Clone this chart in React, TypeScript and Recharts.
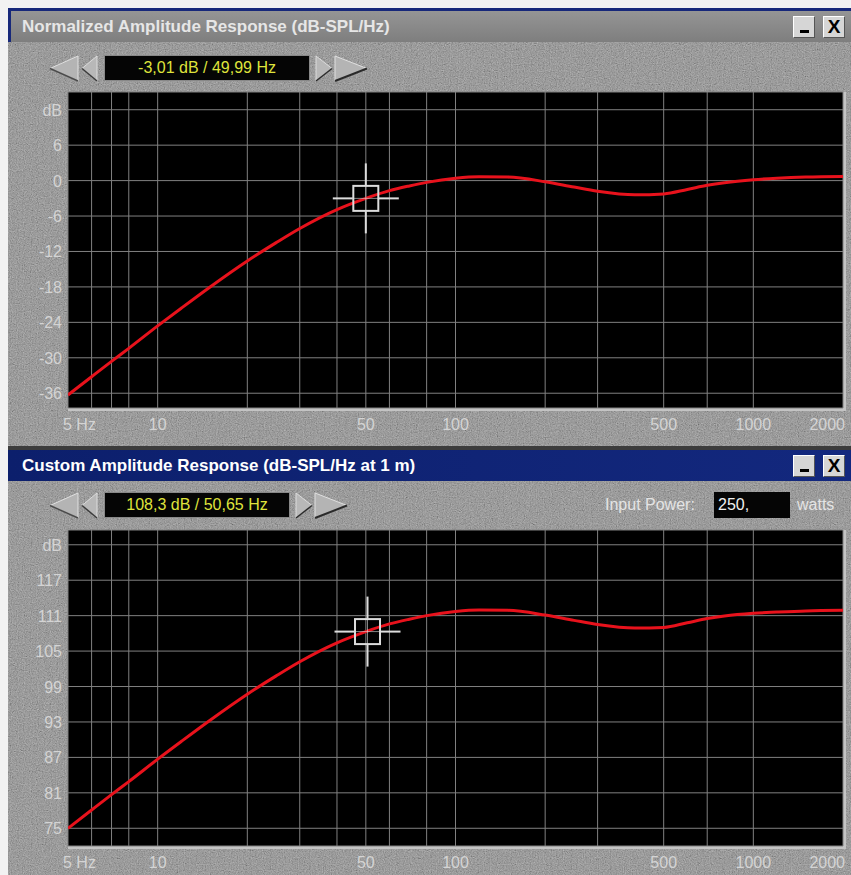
import { LineChart, Line, XAxis, YAxis, CartesianGrid, ReferenceDot } from 'recharts'

// frequency points (Hz) the curves are read at
const freqs = [5, 6, 7, 8, 10, 12, 15, 20, 25, 30, 40, 50, 60, 70, 80, 100, 120, 150, 200, 250, 300, 400, 500, 600, 700, 800, 1000, 1200, 1500, 2000]

// normalized response, dB
const normDb = [-36.3, -33.2, -30.6, -28.4, -24.6, -21.6, -18.0, -13.6, -10.5, -8.1, -4.9, -3.0, -1.7, -0.9, -0.3, 0.4, 0.65, 0.6, -0.2, -1.1, -1.8, -2.4, -2.25, -1.5, -0.8, -0.35, 0.15, 0.4, 0.6, 0.7]

// custom response at 1 m, dB-SPL
const customDb = [75.0, 78.1, 80.7, 82.9, 86.7, 89.7, 93.3, 97.7, 100.8, 103.2, 106.4, 108.3, 109.6, 110.4, 111.0, 111.7, 111.95, 111.9, 111.1, 110.2, 109.5, 108.9, 109.0, 109.8, 110.5, 110.95, 111.4, 111.6, 111.8, 111.9]

const xLabelTicks = [5, 10, 50, 100, 500, 1000, 2000]
const xGridTicks = [5, 6, 7, 8, 9, 10, 20, 30, 40, 50, 60, 70, 80, 90, 100, 200, 300, 400, 500, 600, 700, 800, 900, 1000, 2000]

const normYLabels = [12, 6, 0, -6, -12, -18, -24, -30, -36]
const normYGrid = [12, 9, 6, 3, 0, -3, -6, -9, -12, -15, -18, -21, -24, -27, -30, -33, -36]
const customYLabels = [123, 117, 111, 105, 99, 93, 87, 81, 75]
const customYGrid = [123, 120, 117, 114, 111, 108, 105, 102, 99, 96, 93, 90, 87, 84, 81, 78, 75]

const normCursor = { freq: 49.99, db: -3.01 }
const customCursor = { freq: 50.65, db: 108.3 }
const inputPower = '250,'

const normData = freqs.map((f, i) => ({ f, v: normDb[i] }))
const customData = freqs.map((f, i) => ({ f, v: customDb[i] }))

const FONT = '"Liberation Sans", Arial, sans-serif'
const LABEL = '#d4d4d4'

const fmt = (n: number) => String(n).replace('.', ',')

function XTick(props: any) {
  const { x, y, payload, index } = props
  const last = index === xLabelTicks.length - 1
  const first = index === 0
  return (
    <text
      x={first ? x - 5 : last ? x + 2 : x}
      y={y + 22}
      textAnchor={first ? 'start' : last ? 'end' : 'middle'}
      fill={LABEL}
      fontSize={16}
      fontFamily={FONT}
    >
      {first ? `${payload.value} Hz` : payload.value}
    </text>
  )
}

function makeYTick(dbAt: number) {
  return (props: any) => {
    const { x, y, payload } = props
    return (
      <text x={x} y={y} dy={6} textAnchor="end" fill={LABEL} fontSize={16} fontFamily={FONT}>
        {payload.value === dbAt ? 'dB' : payload.value}
      </text>
    )
  }
}

function Crosshair(props: any) {
  const { cx, cy } = props
  const c = '#dcdcdc'
  return (
    <g stroke={c} strokeWidth={2} fill="none">
      <line x1={cx - 33} y1={cy} x2={cx - 13} y2={cy} />
      <line x1={cx + 13} y1={cy} x2={cx + 33} y2={cy} />
      <line x1={cx} y1={cy - 35} x2={cx} y2={cy - 13} />
      <line x1={cx} y1={cy + 13} x2={cx} y2={cy + 35} />
      <line x1={cx - 13} y1={cy} x2={cx + 13} y2={cy} strokeWidth={1} opacity={0.6} />
      <line x1={cx} y1={cy - 13} x2={cx} y2={cy + 13} strokeWidth={1} opacity={0.6} />
      <rect x={cx - 12.5} y={cy - 12.5} width={25} height={25} />
    </g>
  )
}

function Panel(props: {
  top: number
  data: { f: number; v: number }[]
  domain: [number, number]
  yLabels: number[]
  yGrid: number[]
  cursor: { freq: number; db: number }
}) {
  const { top, data, domain, yLabels, yGrid, cursor } = props
  return (
    <div style={{ position: 'absolute', left: 0, top }}>
      {/* black plot well with bevel */}
      <div
        style={{
          position: 'absolute',
          left: 68,
          top: 92,
          width: 775,
          height: 316,
          background: '#000',
          borderRight: '3px solid #c4c4c4',
          borderBottom: '3px solid #c4c4c4',
        }}
      />
      <div style={{ position: 'absolute', left: 0, top: 0 }}>
        <LineChart width={851} height={440} data={data} margin={{ top: 92, right: 8, bottom: 0, left: 0 }}>
          <XAxis xAxisId="grid" dataKey="f" type="number" scale="log" domain={[5, 2000]} allowDataOverflow ticks={xGridTicks} hide />
          <YAxis yAxisId="grid" type="number" domain={domain} allowDataOverflow ticks={yGrid} hide />
          <CartesianGrid xAxisId="grid" yAxisId="grid" stroke="#808080" strokeWidth={1} />
          <XAxis
            dataKey="f"
            type="number"
            scale="log"
            domain={[5, 2000]}
            allowDataOverflow
            ticks={xLabelTicks}
            interval={0}
            height={32}
            tickSize={0}
            tickMargin={0}
            axisLine={false}
            tickLine={false}
            tick={<XTick />}
          />
          <YAxis
            type="number"
            domain={domain}
            allowDataOverflow
            ticks={yLabels}
            interval={0}
            width={68}
            tickSize={0}
            tickMargin={6}
            axisLine={false}
            tickLine={false}
            tick={makeYTick(yLabels[0])}
          />
          <Line type="monotone" dataKey="v" stroke="#e8121c" strokeWidth={3} dot={false} isAnimationActive={false} />
          <ReferenceDot x={cursor.freq} y={cursor.db} shape={<Crosshair />} />
        </LineChart>
      </div>
    </div>
  )
}

function TitleButtons({ top }: { top: number }) {
  const btn: React.CSSProperties = {
    position: 'absolute',
    top,
    width: 22,
    height: 22,
    background: '#d6d6d6',
    borderTop: '1px solid #fff',
    borderLeft: '1px solid #fff',
    borderRight: '1px solid #555',
    borderBottom: '1px solid #555',
    boxSizing: 'border-box',
    fontFamily: FONT,
    fontWeight: 'bold',
    color: '#000',
    textAlign: 'center',
  }
  return (
    <>
      <div style={{ ...btn, left: 793 }}>
        <div style={{ position: 'absolute', left: 6, top: 13, width: 9, height: 3, background: '#000' }} />
      </div>
      <div style={{ ...btn, left: 823, fontSize: 19, lineHeight: '20px' }}>X</div>
    </>
  )
}

function Toolbar({ top, cursor, readoutWidth }: { top: number; cursor: { freq: number; db: number }; readoutWidth: number }) {
  const rx = 104 + readoutWidth
  return (
    <>
      <svg style={{ position: 'absolute', left: 0, top }} width={400} height={27}>
        <polygon points="50,13.5 78,1 78,26" fill="#b4b4b4" stroke="#e0e0e0" strokeWidth={1} />
        <line x1={50} y1={13.5} x2={78} y2={26} stroke="#4a4a4a" strokeWidth={1.5} />
        <polygon points="82,13.5 97,1 97,26" fill="#b8b8b8" stroke="#dcdcdc" strokeWidth={1} />
        <line x1={82} y1={13.5} x2={97} y2={26} stroke="#3a3a3a" strokeWidth={1.5} />
        <polygon points={`${rx + 6},1 ${rx + 6},26 ${rx + 22},13.5`} fill="#b8b8b8" stroke="#dcdcdc" strokeWidth={1} />
        <line x1={rx + 6} y1={26} x2={rx + 22} y2={13.5} stroke="#2a2a2a" strokeWidth={1.5} />
        <polygon points={`${rx + 25},1 ${rx + 25},26 ${rx + 57},13.5`} fill="#b4b4b4" stroke="#e0e0e0" strokeWidth={1} />
        <line x1={rx + 25} y1={26} x2={rx + 57} y2={13.5} stroke="#2a2a2a" strokeWidth={2} />
      </svg>
      <div
        style={{
          position: 'absolute',
          left: 104,
          top,
          width: readoutWidth,
          height: 26,
          background: '#050505',
          border: '1px solid #888',
          boxSizing: 'border-box',
          color: '#dfe33c',
          fontFamily: FONT,
          fontSize: 16,
          lineHeight: '24px',
          textAlign: 'center',
        }}
      >
        {fmt(cursor.db)} dB / {fmt(cursor.freq)} Hz
      </div>
    </>
  )
}

export default function App() {
  return (
    <div style={{ position: 'absolute', left: 0, top: 0, width: 851, height: 875, background: '#f2f2f2', overflow: 'hidden' }}>
      {/* stucco-like texture */}
      <svg style={{ position: 'absolute', left: 8, top: 8 }} width={843} height={867}>
        <filter id="grain">
          <feTurbulence type="fractalNoise" baseFrequency="0.85" numOctaves={2} seed={3} />
          <feColorMatrix type="matrix" values="0.4 0.4 0.4 0 -0.1  0.4 0.4 0.4 0 -0.1  0.4 0.4 0.4 0 -0.1  0 0 0 0 0.6" />
        </filter>
        <rect width={843} height={867} fill="#6a6a6a" />
        <rect width={843} height={867} filter="url(#grain)" />
      </svg>

      {/* top window title (inactive) */}
      <div style={{ position: 'absolute', left: 8, top: 8, width: 843, height: 3, background: '#17287a' }} />
      <div style={{ position: 'absolute', left: 8, top: 8, width: 3, height: 34, background: '#17287a' }} />
      <div
        style={{
          position: 'absolute',
          left: 11,
          top: 11,
          width: 840,
          height: 31,
          background: 'linear-gradient(#959595, #7e7e7e)',
          color: '#e6e6e6',
          fontFamily: FONT,
          fontWeight: 'bold',
          fontSize: 17,
          lineHeight: '31px',
          paddingLeft: 11,
          boxSizing: 'border-box',
        }}
      >
        Normalized Amplitude Response (dB-SPL/Hz)
      </div>
      <TitleButtons top={16} />
      <Toolbar top={55} cursor={normCursor} readoutWidth={206} />
      <Panel top={0} data={normData} domain={[-38.5, 15]} yLabels={normYLabels} yGrid={normYGrid} cursor={normCursor} />

      {/* window separator */}
      <div style={{ position: 'absolute', left: 8, top: 446, width: 843, height: 4, background: '#3c3c3c' }} />

      {/* bottom window title (active) */}
      <div
        style={{
          position: 'absolute',
          left: 8,
          top: 450,
          width: 843,
          height: 31,
          background: 'linear-gradient(to right, #0c1f6c, #13287e)',
          color: '#fff',
          fontFamily: FONT,
          fontWeight: 'bold',
          fontSize: 17,
          lineHeight: '31px',
          paddingLeft: 14,
          boxSizing: 'border-box',
        }}
      >
        Custom Amplitude Response (dB-SPL/Hz at 1 m)
      </div>
      <TitleButtons top={455} />
      <Toolbar top={492} cursor={customCursor} readoutWidth={186} />
      <div style={{ position: 'absolute', left: 605, top: 492, height: 26, lineHeight: '26px', color: '#e4e4e4', fontFamily: FONT, fontSize: 16 }}>
        Input Power:
      </div>
      <div
        style={{
          position: 'absolute',
          left: 714,
          top: 492,
          width: 76,
          height: 26,
          background: '#050505',
          color: '#f0f0f0',
          fontFamily: FONT,
          fontSize: 16,
          lineHeight: '26px',
          paddingLeft: 4,
          boxSizing: 'border-box',
        }}
      >
        {inputPower}
      </div>
      <div style={{ position: 'absolute', left: 797, top: 492, height: 26, lineHeight: '26px', color: '#e4e4e4', fontFamily: FONT, fontSize: 16 }}>
        watts
      </div>
      <Panel top={438} data={customData} domain={[72, 125.5]} yLabels={customYLabels} yGrid={customYGrid} cursor={customCursor} />
    </div>
  )
}
